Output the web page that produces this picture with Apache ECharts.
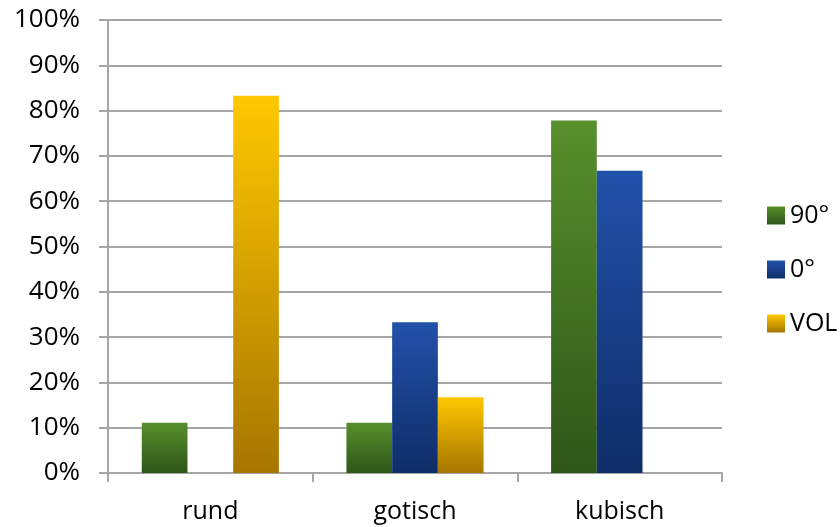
<!DOCTYPE html>
<html>
<head>
<meta charset="utf-8">
<script src="https://cdn.jsdelivr.net/npm/echarts@6/dist/echarts.min.js"></script>
<style>
  html, body { margin: 0; padding: 0; background: #fff; }
  #chart { width: 840px; height: 527px; }
</style>
</head>
<body>
<div id="chart"></div>
<script>
const categories = ["rund", "gotisch", "kubisch"];
const seriesNames = ["90°", "0°", "VOL"];
const values90 = [11.1, 11.1, 77.8];
const values0 = [0, 33.3, 66.7];
const valuesVol = [83.3, 16.7, 0];

const FONT = "Open Sans";

function gradient(top, bottom) {
  return new echarts.graphic.LinearGradient(0, 0, 0, 1, [
    { offset: 0, color: top },
    { offset: 1, color: bottom },
  ]);
}

const palette = [
  gradient("#588f2c", "#2d5619"),
  gradient("#2251aa", "#0f2d68"),
  gradient("#ffc800", "#a67600"),
];

const chart = echarts.init(document.getElementById("chart"));

function makeSeries(name, data, idx) {
  return {
    name,
    type: "bar",
    data,
    barGap: "0%",
    barCategoryGap: "33%",
    itemStyle: { color: palette[idx] },
  };
}

chart.setOption({
  animation: false,
  grid: { left: 108, right: 118, top: 20, bottom: 54 },
  legend: {
    orient: "vertical",
    left: 762,
    top: 198,
    itemWidth: 18,
    itemHeight: 18,
    itemGap: 29,
    icon: "rect",
    textStyle: { fontFamily: FONT, fontSize: 25, color: "#000" },
    data: seriesNames,
  },
  xAxis: {
    type: "category",
    data: categories,
    axisLine: { lineStyle: { color: "#a6a6a6", width: 2 } },
    axisTick: { show: true, length: 9, lineStyle: { color: "#a6a6a6", width: 2 } },
    axisLabel: { fontFamily: FONT, fontSize: 25, color: "#000", margin: 26 },
  },
  yAxis: {
    type: "value",
    min: 0,
    max: 100,
    interval: 10,
    axisLine: { show: true, lineStyle: { color: "#a6a6a6", width: 2 } },
    axisTick: { show: true, length: 9, lineStyle: { color: "#a6a6a6", width: 2 } },
    axisLabel: {
      fontFamily: FONT,
      fontSize: 26,
      color: "#000",
      margin: 28,
      formatter: (v) => `${v}%`,
    },
    splitLine: { lineStyle: { color: "#a6a6a6", width: 2 } },
  },
  series: [
    makeSeries(seriesNames[0], values90, 0),
    makeSeries(seriesNames[1], values0, 1),
    makeSeries(seriesNames[2], valuesVol, 2),
  ],
});
</script>
</body>
</html>
